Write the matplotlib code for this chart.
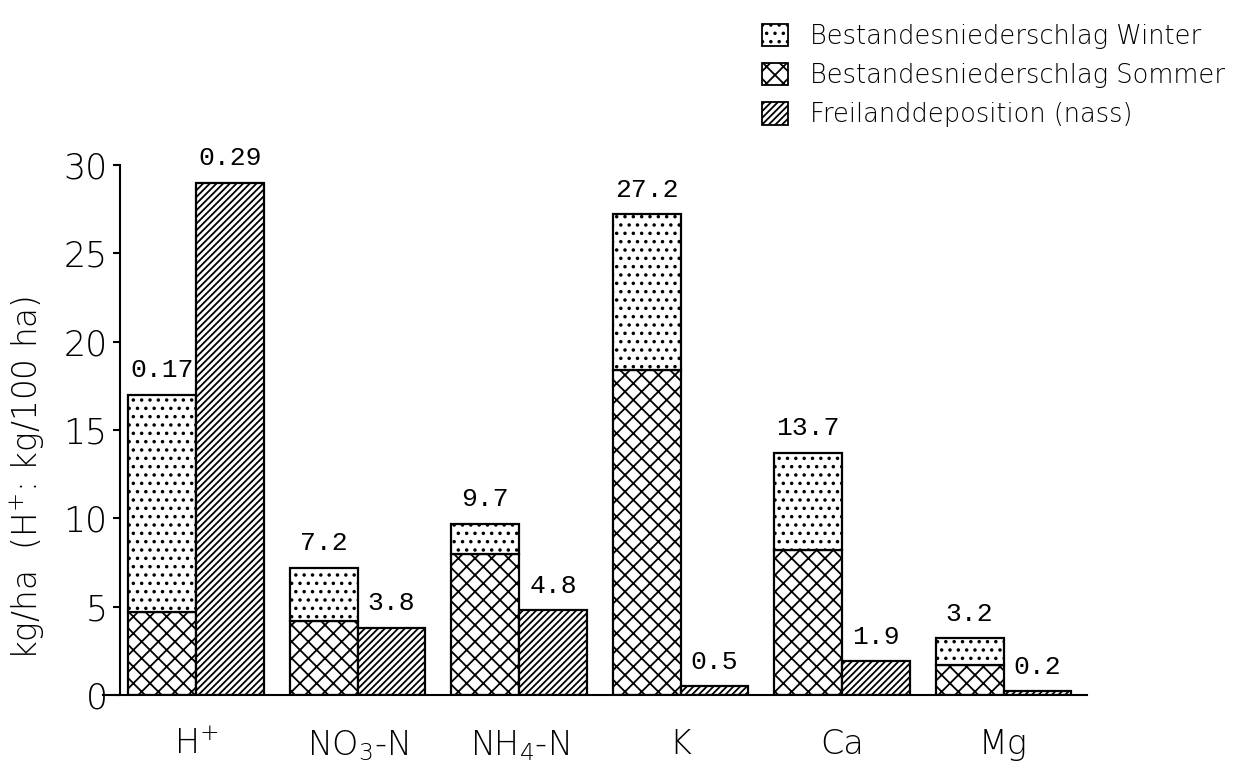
"""Deposition of ions under the stand (winter/summer) vs. open-field wet deposition."""

import matplotlib

matplotlib.use("Agg")
import matplotlib.pyplot as plt
import numpy as np
from matplotlib.patches import Patch

ELEMENTS = ["H$^{+}$", "NO$_{3}$-N", "NH$_{4}$-N", "K", "Ca", "Mg"]
# kg/ha; H+ is drawn in kg/100 ha
STAND_SUMMER = [0.047, 4.2, 8.0, 18.4, 8.2, 1.7]
STAND_TOTAL = [0.17, 7.2, 9.7, 27.2, 13.7, 3.2]
OPEN_FIELD = [0.29, 3.8, 4.8, 0.5, 1.9, 0.2]
UNIT_SCALE = [100, 1, 1, 1, 1, 1]
Y_TICKS = [0, 5, 10, 15, 20, 25, 30]

LEGEND_LABELS = [
    "Bestandesniederschlag Winter",
    "Bestandesniederschlag Sommer",
    "Freilanddeposition (nass)",
]

SANS = ["DejaVu Sans"]
MONO = ["Liberation Mono", "DejaVu Sans Mono"]

HATCH_WINTER = ".."
HATCH_SUMMER = "xx"
HATCH_OPEN = "/////"


def build(path):
    plt.rcParams["font.family"] = SANS
    plt.rcParams["font.weight"] = "light"
    plt.rcParams["axes.labelweight"] = "light"
    plt.rcParams["mathtext.default"] = "regular"
    plt.rcParams["hatch.linewidth"] = 1.3
    plt.rcParams["hatch.color"] = "black"

    fig = plt.figure(figsize=(12.46, 7.76), dpi=100)
    ax = fig.add_axes([0.0827, 0.1044, 0.7897, 0.683])

    x = np.arange(len(ELEMENTS))
    width = 0.42
    scale = np.array(UNIT_SCALE, dtype=float)
    summer = np.array(STAND_SUMMER) * scale
    total = np.array(STAND_TOTAL) * scale
    winter = total - summer
    open_field = np.array(OPEN_FIELD) * scale

    left = x - width / 2
    right = x + width / 2
    edge = dict(edgecolor="black", linewidth=1.6, facecolor="white")

    ax.bar(left, summer, width, hatch=HATCH_SUMMER, **edge)
    ax.bar(left, winter, width, bottom=summer, hatch=HATCH_WINTER, **edge)
    ax.bar(right, open_field, width, hatch=HATCH_OPEN, **edge)

    for i in range(len(ELEMENTS)):
        for xpos, top, val in ((left[i], total[i], STAND_TOTAL[i]),
                               (right[i], open_field[i], OPEN_FIELD[i])):
            ax.annotate(f"{val:g}", (xpos, top), xytext=(0, 9),
                        textcoords="offset points", ha="center", va="bottom",
                        fontsize=19, family=MONO, annotation_clip=False)

    ax.set_xlim(-0.576, 5.517)
    ax.set_ylim(0, 30)
    ax.set_yticks(Y_TICKS)
    ax.set_xticks(x)
    ax.set_xticklabels(ELEMENTS, fontsize=24)
    ax.tick_params(axis="x", length=0, pad=24)
    ax.tick_params(axis="y", direction="out", length=5, width=1.5,
                   labelsize=25, pad=4)

    for side in ("top", "right"):
        ax.spines[side].set_visible(False)
    ax.spines["left"].set_position(("axes", 0.0173))
    ax.spines["left"].set_linewidth(1.5)
    ax.spines["bottom"].set_linewidth(1.5)

    ax.set_ylabel("kg/ha  (H$^{+}$: kg/100 ha)", fontsize=23.5, fontweight="light")
    ax.yaxis.set_label_coords(-0.057, 0.41)

    handles = [
        Patch(facecolor="white", edgecolor="black", hatch=HATCH_WINTER, linewidth=1.3),
        Patch(facecolor="white", edgecolor="black", hatch=HATCH_SUMMER, linewidth=1.3),
        Patch(facecolor="white", edgecolor="black", hatch=HATCH_OPEN, linewidth=1.3),
    ]
    fig.legend(handles, LEGEND_LABELS, loc="upper left",
               bbox_to_anchor=(762 / 1246, 1 - 24 / 776), frameon=False,
               fontsize=18.5, handlelength=1.0, handleheight=0.95,
               handletextpad=0.85, labelspacing=0.55, borderpad=0,
               borderaxespad=0)

    fig.savefig(path, dpi=100)
    plt.close(fig)


if __name__ == "__main__":
    build("out.png")
